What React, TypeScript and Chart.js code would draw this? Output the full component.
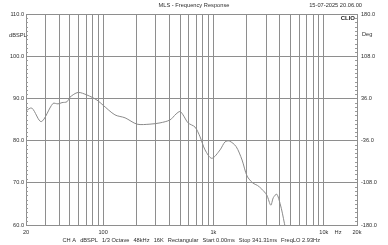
import React, { useEffect, useRef } from 'react';
import { Chart, registerables } from 'chart.js';

Chart.register(...registerables);

// Frequency response curve (Hz, dBSPL)
const freqs = [20, 22.6, 27.5, 35.1, 39, 42.4, 47, 50.1, 59.2, 71.5, 88, 99.8, 128, 158, 203, 266, 328, 404, 458, 498, 530, 589, 681, 756, 839, 966, 1148, 1274, 1394, 1603, 1817, 2017, 2286, 2500, 2742, 3041, 3308, 3492, 3750, 4016, 4214, 4396, 4600];
const spl = [87.1, 87.7, 84.5, 88.8, 88.7, 89.0, 89.2, 90.3, 91.4, 90.8, 89.6, 88.4, 86.1, 85.4, 83.9, 83.9, 84.2, 84.9, 86.3, 86.9, 86.1, 84.2, 83.2, 80.9, 77.8, 75.8, 77.8, 79.7, 79.9, 78.6, 75.4, 71.6, 69.9, 69.4, 68.5, 67.1, 64.7, 66.5, 67.3, 65.1, 62.8, 60.4, 58.0];

const xTicks = [20, 30, 40, 50, 60, 70, 80, 90, 100, 200, 300, 400, 500, 600, 700, 800, 900, 1000, 2000, 3000, 4000, 5000, 6000, 7000, 8000, 9000, 10000, 20000];
const xLabels: Record<number, string> = { 20: '20', 100: '100', 1000: '1k', 10000: '10k', 20000: '20k' };
const yTicks = [60, 70, 80, 90, 100, 110];
const phaseTicks = [-180, -108, -36, 36, 108, 180];

const titleText = 'MLS - Frequency Response';
const dateText = '15-07-2025 20.06.00';
const infoParts = ['CH A', 'dBSPL', '1/3 Octave', '48kHz', '16K', 'Rectangular', 'Start 0.00ms', 'Stop 341.31ms', 'FreqLO 2.93Hz'];

const FONT = '"Liberation Sans", Arial, sans-serif';
const TXT = '#2e2e2e';
const GRID = '#8e8e8e';
const FS = 5.7;
const TICKFS = 5.6;

export default function App() {
  const ref = useRef<HTMLCanvasElement | null>(null);

  useEffect(() => {
    if (!ref.current) return;
    const overlay = {
      id: 'overlay',
      afterDraw(chart: any) {
        const ctx = chart.ctx as CanvasRenderingContext2D;
        const a = chart.chartArea;
        ctx.save();
        ctx.fillStyle = TXT;
        ctx.font = `${FS}px ${FONT}`;
        ctx.textBaseline = 'middle';
        ctx.textAlign = 'center';
        ctx.fillText(titleText, 194, 5);
        ctx.textAlign = 'right';
        ctx.fillText(dateText, 362, 5);
        ctx.textAlign = 'left';
        ctx.fillText('dBSPL', 9, 35);
        ctx.fillText('Deg', 362, 34);
        ctx.textAlign = 'center';
        ctx.fillText('Hz', 338, 232);
        // info line
        const widths = infoParts.map((p) => ctx.measureText(p).width);
        const total = widths.reduce((s, w) => s + w, 0);
        const x0 = 62.5, x1 = 320;
        const gap = Math.max(3, (x1 - x0 - total) / (infoParts.length - 1));
        let x = x0;
        ctx.textAlign = 'left';
        infoParts.forEach((p, i) => {
          ctx.fillText(p, x, 240);
          x += widths[i] + gap;
        });
        // CLIO
        ctx.font = `bold 6px ${FONT}`;
        ctx.fillStyle = '#222';
        ctx.textAlign = 'right';
        ctx.fillText('CLIO', a.right - 2, 18);
        // minor ticks
        ctx.strokeStyle = '#9a9a9a';
        ctx.lineWidth = 1;
        const ys = chart.scales.y;
        for (let v = 61; v < 110; v++) {
          if (v % 10 === 0) continue;
          const py = Math.round(ys.getPixelForValue(v)) + 0.5;
          ctx.beginPath();
          ctx.moveTo(a.left, py);
          ctx.lineTo(a.left + 2, py);
          ctx.moveTo(a.right - 2, py);
          ctx.lineTo(a.right, py);
          ctx.stroke();
        }
        ctx.restore();
      },
    };

    const chart = new Chart(ref.current, {
      type: 'line',
      data: {
        datasets: [
          {
            data: freqs.map((f, i) => ({ x: f, y: spl[i] })),
            borderColor: '#8a8a8a',
            borderWidth: 1,
            pointRadius: 0,
            tension: 0.3,
            fill: false,
          },
        ],
      },
      options: {
        responsive: false,
        animation: false,
        layout: { padding: { top: 14, left: 0, right: 0, bottom: 0 } },
        plugins: { legend: { display: false }, title: { display: false }, tooltip: { enabled: false } },
        scales: {
          x: {
            type: 'logarithmic',
            min: 20,
            max: 20000,
            afterBuildTicks: (s: any) => {
              s.ticks = xTicks.map((v) => ({ value: v }));
            },
            afterFit: (s: any) => {
              s.height = 20;
            },
            ticks: {
              autoSkip: false,
              maxRotation: 0,
              padding: 4,
              color: TXT,
              font: { size: TICKFS, family: FONT },
              callback: (v: any) => xLabels[Number(v)] ?? '',
            },
            grid: { color: GRID, lineWidth: 1, drawTicks: false },
            border: { display: true, color: GRID },
          },
          y: {
            type: 'linear',
            position: 'left',
            min: 60,
            max: 110,
            afterBuildTicks: (s: any) => {
              s.ticks = yTicks.map((v) => ({ value: v }));
            },
            afterFit: (s: any) => {
              s.width = 26;
            },
            ticks: {
              padding: 2,
              color: TXT,
              font: { size: TICKFS, family: FONT },
              callback: (v: any) => Number(v).toFixed(1),
            },
            grid: { color: GRID, lineWidth: 1, drawTicks: false },
            border: { display: true, color: GRID },
          },
          y2: {
            type: 'linear',
            position: 'right',
            min: -180,
            max: 180,
            afterBuildTicks: (s: any) => {
              s.ticks = phaseTicks.map((v) => ({ value: v }));
            },
            afterFit: (s: any) => {
              s.width = 31;
            },
            ticks: {
              padding: 4,
              color: TXT,
              font: { size: TICKFS, family: FONT },
              callback: (v: any) => Number(v).toFixed(1),
            },
            grid: { display: false, drawTicks: false },
            border: { display: true, color: GRID },
          },
        },
      },
      plugins: [overlay],
    });
    return () => chart.destroy();
  }, []);

  return (
    <div style={{ position: 'fixed', left: 0, top: 0, width: 388, height: 245, background: '#fff' }}>
      <canvas ref={ref} width={388} height={245} style={{ display: 'block' }} />
    </div>
  );
}
